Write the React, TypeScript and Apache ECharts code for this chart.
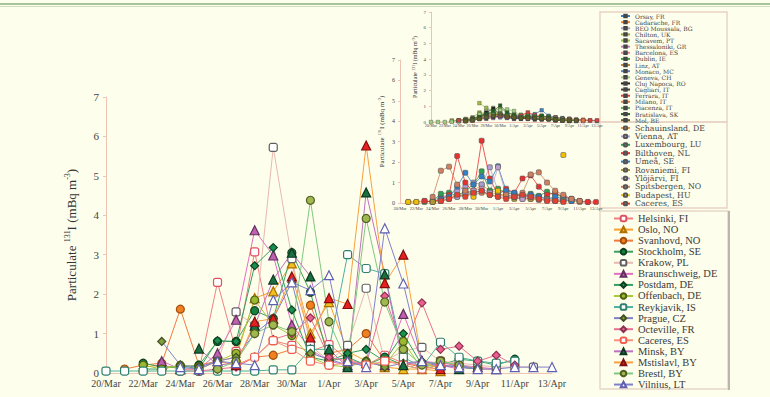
import React, { useEffect, useRef } from 'react';
import * as echarts from 'echarts';

const FONT = '"Liberation Serif", "Times New Roman", serif';
const WIDE = '"DejaVu Serif", "Liberation Serif", serif';

const dates = ['20/Mar','21/Mar','22/Mar','23/Mar','24/Mar','25/Mar','26/Mar','27/Mar','28/Mar','29/Mar','30/Mar','31/Mar',
  '1/Apr','2/Apr','3/Apr','4/Apr','5/Apr','6/Apr','7/Apr','8/Apr','9/Apr','10/Apr','11/Apr','12/Apr','13/Apr'];
const yTicks = [0, 1, 2, 3, 4, 5, 6, 7];

// ---------- main chart (16 stations) ----------
const mainNames = ['Helsinki, FI','Oslo, NO','Svanhovd, NO','Stockholm, SE','Krakow, PL','Braunschweig, DE','Postdam, DE',
  'Offenbach, DE','Reykjavik, IS','Prague, CZ','Octeville, FR','Caceres, ES','Minsk, BY','Mstislavl, BY','Brestl, BY','Vilnius, LT'];
const helsinki =     [null,null,null,null,0.05,0.05,2.3,0.55,3.07,0.82,0.7,0.55,0.72,0.35,0.2,0.45,0.25,0.2,0.3,0.15,0.1,0.1,null,null,null];
const oslo =         [null,null,0.15,0.2,0.1,0.1,0.3,0.4,1.9,2.07,2.78,1.0,1.8,0.55,0.3,0.15,0.1,0.1,0.05,null,null,null,null,null,null];
const svanhovd =     [null,0.1,0.2,0.25,1.62,0.2,0.3,0.2,0.4,0.45,0.6,1.72,0.5,0.6,1.0,0.3,0.25,0.15,0.1,null,null,null,null,null,null];
const stockholm =    [null,null,0.25,0.15,0.15,0.2,0.8,0.8,1.58,1.38,3.05,2.05,0.3,0.4,0.2,0.4,0.2,0.1,0.2,0.35,0.3,0.2,0.35,null,null];
const krakow =       [null,null,null,null,null,null,0.3,1.55,1.2,5.72,2.9,0.7,0.3,0.7,2.15,0.3,0.56,0.65,0.3,0.25,0.2,0.15,0.15,0.15,null];
const braunschweig = [null,null,null,0.3,0.1,0.1,0.5,1.35,3.62,2.98,1.22,0.6,0.3,0.2,0.25,0.2,1.5,0.3,0.25,0.2,0.15,0.1,null,null,null];
const postdam =      [null,null,0.1,0.1,0.2,0.1,0.82,0.8,2.72,3.18,1.6,0.4,0.3,0.5,0.6,0.3,1.0,0.2,0.2,0.15,0.1,null,null,null,null];
const offenbach =    [null,null,0.2,0.1,0.2,0.15,0.3,0.5,1.85,1.22,0.95,0.4,0.2,0.15,0.3,0.2,0.8,0.1,0.3,0.2,0.1,null,null,null,null];
const reykjavik =    [0.05,0.05,0.05,0.05,0.05,0.05,0.05,0.05,0.05,0.08,0.08,0.6,0.6,3.0,2.65,2.52,0.4,0.15,0.78,0.4,0.3,0.25,0.3,null,null];
const prague =       [null,null,null,0.8,0.2,0.15,0.3,0.4,1.0,1.38,2.3,0.5,0.35,0.2,0.3,0.15,0.25,0.3,0.15,0.2,0.1,null,null,null,null];
const octeville =    [null,null,null,null,null,0.05,0.1,0.15,0.4,0.85,1.0,1.4,0.4,0.3,0.2,1.95,0.6,1.78,0.6,0.68,0.3,0.45,0.2,null,null];
const caceres =      [null,null,null,null,null,null,null,0.2,0.4,0.82,0.6,0.3,0.2,0.25,0.2,0.3,0.2,0.1,0.2,0.15,null,null,null,null,null];
const minsk =        [null,null,null,null,null,0.62,0.2,0.25,1.2,2.37,3.05,2.45,0.6,0.15,4.58,2.5,0.2,0.3,0.2,0.1,null,null,null,null,null];
const mstislavl =    [null,null,null,null,null,null,null,0.2,1.3,1.38,2.45,0.9,1.9,1.75,5.77,2.28,3.0,0.3,0.1,null,null,null,null,null,null];
const brestl =       [null,null,null,null,null,null,0.1,0.3,1.0,1.22,1.05,4.38,1.3,0.25,3.92,1.8,0.6,0.2,0.3,0.2,null,null,null,null,null];
const vilnius =      [null,null,null,null,0.15,0.1,0.3,0.25,0.2,1.85,2.3,2.1,2.48,0.3,0.15,3.67,2.27,0.3,0.2,0.15,0.1,0.1,0.15,0.15,0.15];
const mainValues = [helsinki,oslo,svanhovd,stockholm,krakow,braunschweig,postdam,offenbach,reykjavik,prague,octeville,caceres,minsk,mstislavl,brestl,vilnius];

// ---------- middle inset (10 stations) ----------
const midNames = ['Schauinsland, DE','Vienna, AT','Luxembourg, LU','Bilthoven, NL','Umeå, SE','Rovaniemi, FI','Ylöjärvi, FI',
  'Spitsbergen, NO','Budapest, HU','Caceres, ES\u200b'];
const schauinsland = [null,0.05,0.05,0.1,0.05,0.2,0.3,0.4,0.5,0.6,0.9,0.6,0.5,0.3,0.3,0.2,0.2,0.3,0.2,0.15,0.1,0.1,0.05,0.05,null];
const vienna =       [null,null,null,null,0.1,0.3,0.4,0.6,0.8,1.0,0.9,1.75,0.6,0.5,0.4,0.3,0.35,0.3,0.25,0.2,0.15,0.1,null,null,null];
const luxembourg =   [null,null,null,0.05,0.1,0.45,0.5,0.35,0.6,0.9,1.55,0.6,0.7,0.5,0.45,0.4,0.45,0.35,0.55,0.4,0.3,0.2,0.1,null,null];
const bilthoven =    [null,null,null,0.1,0.05,0.2,0.4,2.3,1.0,0.5,3.05,1.2,0.4,0.7,0.5,1.2,1.35,0.8,0.4,0.5,0.3,0.2,0.1,0.05,0.05];
const umea =         [null,null,null,null,null,0.2,0.3,0.8,1.48,0.9,1.3,1.05,1.8,0.6,0.5,0.3,0.4,0.3,0.2,0.3,0.2,0.1,null,null,null];
const rovaniemi =    [null,null,null,null,0.05,0.1,0.2,0.3,0.4,0.5,0.6,0.4,0.5,0.3,0.2,0.25,0.2,0.15,0.2,0.1,0.1,null,null,null,null];
const ylojarvi =     [null,null,null,null,null,0.1,0.2,0.3,0.5,0.6,0.7,0.5,1.75,0.4,0.3,0.2,0.3,0.2,0.15,0.1,null,null,null,null,null];
const spitsbergen =  [null,null,null,null,0.3,1.58,1.78,0.9,0.6,0.4,0.5,0.4,0.3,0.4,0.3,0.5,1.4,1.5,1.0,0.6,0.4,0.2,0.1,null,null];
const budapest =     [null,0.05,0.05,null,null,null,null,null,null,0.3,null,null,0.6,null,null,null,null,null,null,null,2.35,null,null,null,null];
const caceresMid =   [null,null,null,null,null,0.1,0.2,0.4,0.3,0.5,0.6,0.4,0.3,0.2,0.3,0.4,0.3,0.2,0.1,0.1,0.05,null,null,null,null];
const midValues = [schauinsland,vienna,luxembourg,bilthoven,umea,rovaniemi,ylojarvi,spitsbergen,budapest,caceresMid];

// ---------- top inset (18 stations) ----------
const topNames = ['Orsay, FR','Cadarache, FR','BEO Moussala, BG','Chilton, UK','Sacavem, PT','Thessaloniki, GR','Barcelona, ES',
  'Dublin, IE','Linz, AT','Monaco, MC','Geneva, CH','Cluj Napoca, RO','Cagliari, IT','Ferrara, IT','Milano, IT','Piacenza, IT',
  'Bratislava, SK','Mol, BE'];
const orsay =        [null,null,null,0.05,0.1,0.15,0.2,0.3,0.4,0.5,0.45,0.3,0.35,0.3,0.4,0.5,0.75,0.4,0.3,0.25,0.2,0.15,0.1,0.1,0.05];
const cadarache =    [null,null,null,null,0.1,0.1,0.2,0.3,0.5,0.6,0.55,0.4,0.3,0.45,0.6,0.4,0.35,0.3,0.25,0.2,0.2,0.15,0.1,0.1,0.1];
const moussala =     [null,null,null,null,null,0.05,0.1,0.2,0.35,0.4,0.5,0.3,0.25,0.3,0.2,0.25,0.3,0.2,0.15,0.1,0.1,0.1,null,null,null];
const chilton =      [null,null,null,0.1,0.1,0.2,0.3,0.6,0.5,0.6,0.4,0.35,0.3,0.4,0.3,0.3,0.25,0.2,0.15,0.2,0.1,0.1,null,null,null];
const sacavem =      [null,null,null,null,null,null,null,1.2,0.9,0.7,0.85,0.6,0.5,0.45,0.4,0.3,0.35,0.3,0.2,0.2,0.15,0.1,0.1,null,null];
const thessaloniki = [null,null,null,null,0.05,0.1,0.15,0.2,0.3,0.25,0.35,0.3,0.2,0.25,0.2,0.3,0.25,0.2,0.15,0.1,0.1,null,null,null,null];
const barcelona =    [null,null,null,null,null,0.1,0.1,0.2,0.3,0.4,0.3,0.5,0.4,0.3,0.35,0.3,0.2,0.3,0.2,0.15,0.1,0.1,0.05,null,null];
const dublin =       [null,null,null,null,0.1,0.15,0.2,0.4,0.6,0.5,0.55,0.4,0.3,0.3,0.35,0.4,0.3,0.2,0.2,0.15,0.1,null,null,null,null];
const linz =         [null,null,null,null,null,0.1,0.2,0.3,0.45,0.5,0.4,0.3,0.35,0.3,0.25,0.3,0.2,0.2,0.25,0.15,0.1,0.1,null,null,null];
const monaco =       [null,null,null,null,0.05,0.1,0.15,0.3,0.35,0.4,0.3,0.25,0.3,0.2,0.35,0.25,0.3,0.2,0.15,0.1,0.1,0.05,null,null,null];
const geneva =       [0,0,0,0.02,0.05,0.1,0.2,0.5,0.7,0.9,0.75,0.8,0.7,0.4,0.3,0.3,0.25,0.2,0.15,0.1,0.1,null,null,null,null];
const cluj =         [null,null,null,null,null,0.1,0.2,0.3,0.6,0.85,0.5,0.4,0.3,0.2,0.3,0.2,0.15,0.2,0.1,0.1,null,null,null,null,null];
const cagliari =     [null,null,null,null,null,0.05,0.1,0.2,0.2,0.3,0.4,0.3,0.2,0.25,0.2,0.15,0.2,0.15,0.1,0.1,0.05,null,null,null,null];
const ferrara =      [null,null,null,null,0.1,0.15,0.2,0.3,0.4,0.5,0.4,0.3,0.35,0.4,0.6,0.45,0.4,0.3,0.3,0.2,0.2,0.15,0.15,0.1,0.1];
const milano =       [null,null,null,null,null,0.1,0.2,0.25,0.35,0.5,0.45,0.35,0.4,0.3,0.25,0.35,0.3,0.25,0.2,0.15,0.15,0.1,0.1,null,null];
const piacenza =     [null,null,null,null,null,0.1,0.15,0.3,0.4,0.6,0.55,0.45,0.35,0.3,0.4,0.35,0.3,0.35,0.25,0.2,0.15,0.1,null,null,null];
const bratislava =   [null,null,null,null,null,0.1,0.2,0.3,0.5,0.7,1.05,0.6,0.45,0.3,0.35,0.3,0.4,0.3,0.2,0.15,0.1,0.1,null,null,null];
const mol =          [null,null,null,null,null,0.05,0.1,0.2,0.3,0.4,0.5,0.35,0.3,0.25,0.3,0.25,0.2,0.2,0.15,0.1,0.1,0.1,null,null,null];
const topValues = [orsay,cadarache,moussala,chilton,sacavem,thessaloniki,barcelona,dublin,linz,monaco,geneva,cluj,cagliari,ferrara,milano,piacenza,bratislava,mol];

// styles
const mainStyles = [
  { line: '#f08080', fill: '#ffffff', border: '#e05060', symbol: 'roundRect' },
  { line: '#f8a030', fill: '#f0c020', border: '#b07000', symbol: 'triangle' },
  { line: '#f07a40', fill: '#f08020', border: '#a05010', symbol: 'circle' },
  { line: '#3ea060', fill: '#1a8040', border: '#0d4020', symbol: 'circle' },
  { line: '#e8b8b0', fill: '#ffffff', border: '#606060', symbol: 'roundRect' },
  { line: '#e070c0', fill: '#c060b0', border: '#603060', symbol: 'triangle' },
  { line: '#30a060', fill: '#1a9050', border: '#0d4020', symbol: 'diamond' },
  { line: '#a8c840', fill: '#9ab830', border: '#506010', symbol: 'circle' },
  { line: '#50b0a0', fill: '#ffffff', border: '#2f8070', symbol: 'roundRect' },
  { line: '#8080c8', fill: '#80a040', border: '#405020', symbol: 'diamond' },
  { line: '#e87090', fill: '#e86090', border: '#903050', symbol: 'diamond' },
  { line: '#ff9080', fill: '#ffffff', border: '#f06050', symbol: 'roundRect' },
  { line: '#c070c0', fill: '#1a7040', border: '#0d3820', symbol: 'triangle' },
  { line: '#f8a040', fill: '#e82020', border: '#801010', symbol: 'triangle' },
  { line: '#80c880', fill: '#a0b850', border: '#506020', symbol: 'circle' },
  { line: '#8080d0', fill: '#ffffff', border: '#6060b0', symbol: 'triangle' },
];
const midColors = ['#f49040','#b0a0d8','#30a050','#e83030','#3080c8','#b09a30','#c0a0d0','#d08060','#f0c000','#e84030'];
const topColors = ['#4080c0','#f08030','#a0a0d0','#a0a040','#a0c040','#c080c0','#f080a0','#40a040','#c08040','#6080c0',
  '#a0d080','#202020','#404040','#e04040','#e08040','#60b060','#206020','#606020'];

const axisLineColor = '#f0c4b4';

function yName(size: number, sup: number) {
  return {
    name: '{a|Particulate }{s|131}{a|I (mBq m}{s|-3}{a|)}',
    nameTextStyle: {
      rich: {
        a: { fontSize: size, fontFamily: FONT, color: '#333', lineHeight: size * 1.25 },
        s: { fontSize: sup, fontFamily: FONT, color: '#333', verticalAlign: 'top', lineHeight: sup },
      },
    },
  };
}

export default function App() {
  const ref = useRef<HTMLDivElement>(null);
  useEffect(() => {
    if (!ref.current) return;
    const chart = echarts.init(ref.current, undefined, { renderer: 'svg' });

    const series: any[] = [];
    mainNames.forEach((n, i) => {
      const s = mainStyles[i];
      series.push({
        type: 'line', name: n, data: mainValues[i], xAxisIndex: 0, yAxisIndex: 0,
        symbol: s.symbol, symbolSize: s.symbol === 'triangle' ? 9 : 8, showAllSymbol: true,
        lineStyle: { color: s.line, width: 1 },
        itemStyle: { color: s.fill, borderColor: s.border, borderWidth: 1.2 },
        z: 3,
      });
    });
    midNames.forEach((n, i) => {
      series.push({
        type: 'line', name: n, data: midValues[i], xAxisIndex: 1, yAxisIndex: 1,
        symbol: 'roundRect', symbolSize: 5, showAllSymbol: true,
        lineStyle: { color: midColors[i], width: 0.8 },
        itemStyle: { color: midColors[i], borderColor: '#555', borderWidth: 0.6 },
      });
    });
    topNames.forEach((n, i) => {
      series.push({
        type: 'line', name: n, data: topValues[i], xAxisIndex: 2, yAxisIndex: 2,
        symbol: 'rect', symbolSize: 3.5, showAllSymbol: true,
        lineStyle: { color: topColors[i], width: 0.7 },
        itemStyle: { color: topColors[i], borderColor: '#444', borderWidth: 0.4 },
      });
    });

    const xCommon = (fs: number, margin: number) => ({
      type: 'category', data: dates, boundaryGap: false,
      axisLine: { show: true, lineStyle: { color: axisLineColor, width: 1 } },
      axisTick: { show: false },
      axisLabel: { interval: 1, fontSize: fs, fontFamily: FONT, color: '#444', margin },
      splitLine: { show: false },
    });
    const yCommon = (fs: number, margin: number, tick: number) => ({
      type: 'value', min: yTicks[0], max: yTicks[yTicks.length - 1], interval: 1,
      axisLine: { show: true, lineStyle: { color: axisLineColor, width: 1 } },
      axisTick: { show: true, length: tick, lineStyle: { color: axisLineColor } },
      axisLabel: { fontSize: fs, fontFamily: FONT, color: '#444', margin },
      splitLine: { show: false },
      nameLocation: 'middle', nameRotate: 90,
    });

    chart.setOption({
      animation: false,
      backgroundColor: '#fefeec',
      grid: [
        { left: 106, top: 97, width: 446, height: 276 },
        { left: 400, top: 60, width: 196, height: 143 },
        { left: 431, top: 12, width: 166, height: 110 },
      ],
      xAxis: [
        { ...xCommon(10, 5), gridIndex: 0 },
        { ...xCommon(4.5, 3), gridIndex: 1 },
        { ...xCommon(4, 1.5), gridIndex: 2 },
      ],
      yAxis: [
        { ...yCommon(11, 7, 3), gridIndex: 0, ...yName(13, 8), nameGap: 26 },
        { ...yCommon(6, 5, 2), gridIndex: 1, ...yName(7, 4.5), nameGap: 14 },
        { ...yCommon(5, 5, 2), gridIndex: 2, ...yName(6, 4), nameGap: 12 },
      ],
      legend: [
        {
          data: topNames, orient: 'vertical', left: 620, top: 13, padding: 0, height: 380,
          itemWidth: 9, itemHeight: 3, itemGap: 0.13, selectedMode: false,
          textStyle: { fontSize: 6, fontFamily: WIDE, color: '#444' },
        },
        {
          data: midNames, orient: 'vertical', left: 620, top: 124, padding: 0, height: 380,
          itemWidth: 9, itemHeight: 4, itemGap: 0.4, selectedMode: false,
          formatter: (n: string) => n.replace('\u200b', ''),
          textStyle: { fontSize: 7.8, fontFamily: WIDE, color: '#444' },
        },
        {
          data: mainNames, orient: 'vertical', left: 613, top: 213, padding: 0, height: 380,
          itemWidth: 19, itemHeight: 7, itemGap: 0.07, selectedMode: false,
          textStyle: { fontSize: 10.5, fontFamily: FONT, color: '#3a3a3a' },
        },
      ],
      graphic: [
        { type: 'rect', shape: { x: 0, y: 3, width: 770, height: 2 }, style: { fill: '#a9c49a' }, silent: true },
        { type: 'rect', shape: { x: 0, y: 6, width: 770, height: 1 }, style: { fill: '#cfdcc0' }, silent: true },
        { type: 'rect', shape: { x: 600, y: 12, width: 127, height: 110 }, style: { fill: 'none', stroke: '#ead2c4', lineWidth: 1.5 }, silent: true },
        { type: 'rect', shape: { x: 600, y: 122, width: 127, height: 86 }, style: { fill: 'none', stroke: '#ead2c4', lineWidth: 1.5 }, silent: true },
        { type: 'rect', shape: { x: 600, y: 211, width: 128, height: 178 }, style: { fill: 'none', stroke: '#e6d6c8', lineWidth: 1.5 }, silent: true },
        { type: 'line', shape: { x1: 729, y1: 211, x2: 729, y2: 390 }, style: { stroke: '#bdb5ad', lineWidth: 2 }, silent: true },
      ],
      series,
    });
    return () => chart.dispose();
  }, []);
  return <div ref={ref} style={{ position: 'fixed', left: 0, top: 0, width: 770, height: 397 }} />;
}
